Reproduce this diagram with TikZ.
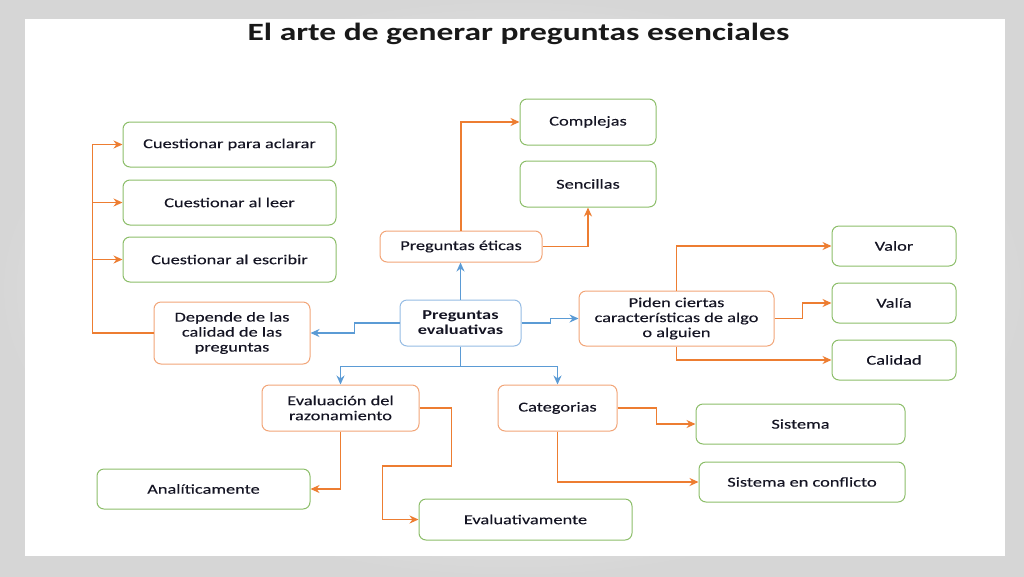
\documentclass[tikz,border=0pt]{standalone}
\usepackage{fontspec}
\setmainfont{Carlito}[FakeStretch=1.35]
\newfontfamily\boxfont{Carlito}[FakeStretch=1.35, FakeBold=0.2]
\definecolor{LineOrange}{RGB}{237,125,49}
\definecolor{BoxOrange}{RGB}{242,165,120}
\definecolor{LineBlue}{RGB}{91,155,213}
\definecolor{BoxBlue}{RGB}{150,188,228}
\definecolor{BoxGreen}{RGB}{140,190,105}
\definecolor{TextDark}{RGB}{20,20,35}
\usetikzlibrary{positioning, arrows.meta, calc, shadings}
\tikzstyle{arrow} = [line width=1.4pt, LineOrange, -{Stealth[length=9pt,width=8pt]}]
\tikzstyle{bluearrow} = [line width=1.4pt, LineBlue, -{Stealth[length=9pt,width=8pt]}]
\tikzstyle{basebox} = [rounded corners=7pt, fill=white, line width=1pt, align=center, inner sep=2pt, text=TextDark, font=\boxfont\fontsize{13.6}{15}\selectfont]
\tikzstyle{greenbox} = [basebox, draw=BoxGreen]
\tikzstyle{orangebox} = [basebox, draw=BoxOrange]
\tikzstyle{bluebox} = [basebox, draw=BoxBlue]

\begin{document}
\begin{tikzpicture}[x=1pt, y=-1pt]
  % Background
  \useasboundingbox (0,0) rectangle (1024,576);
  \shade[inner color=white, outer color=gray!32] (0,0) rectangle (1024,576);
  \fill[white] (25,19) rectangle (1005,556);

  % Title
  \node[text=black!90, font=\fontsize{24.8}{28}\selectfont\bfseries] (title) at (518.5,34) {El arte de generar preguntas esenciales};

  % Centre
  \node[bluebox, minimum width=121, minimum height=46, font=\fontsize{13.6}{15}\selectfont\bfseries] (evalua) at (460.5,323) {Preguntas\\evaluativas};

  % Left
  \node[greenbox, minimum width=213, minimum height=45] (aclarar) at (229.5,144.5) {Cuestionar para aclarar};
  \node[greenbox, minimum width=213, minimum height=45] (leer) at (229.5,202.5) {Cuestionar al leer};
  \node[greenbox, minimum width=213, minimum height=45] (escribir) at (229.5,259.5) {Cuestionar al escribir};
  \node[orangebox, minimum width=156, minimum height=62] (depende) at (232,333) {Depende de las\\calidad de las\\preguntas};

  % Top
  \node[orangebox, minimum width=162, minimum height=31] (eticas) at (461,246.5) {Preguntas éticas};
  \node[greenbox, minimum width=136, minimum height=46] (complejas) at (588,122) {Complejas};
  \node[greenbox, minimum width=136, minimum height=46] (sencillas) at (588,184) {Sencillas};

  % Right
  \node[orangebox, minimum width=195, minimum height=55] (piden) at (676.5,318.5) {Piden ciertas\\características de algo\\o alguien};
  \node[greenbox, minimum width=124, minimum height=40] (valor) at (894,246) {Valor};
  \node[greenbox, minimum width=124, minimum height=40] (valia) at (894,303) {Valía};
  \node[greenbox, minimum width=124, minimum height=40] (calidad) at (894,360) {Calidad};

  % Bottom
  \node[orangebox, minimum width=157, minimum height=46] (razon) at (340.5,408) {Evaluación del\\razonamiento};
  \node[orangebox, minimum width=119, minimum height=46] (categ) at (557.5,408) {Categorias};
  \node[greenbox, minimum width=213, minimum height=40] (anali) at (203.5,489) {Analíticamente};
  \node[greenbox, minimum width=213, minimum height=41] (evaluat) at (525.5,519.5) {Evaluativamente};
  \node[greenbox, minimum width=209, minimum height=40] (sistema) at (800.5,424) {Sistema};
  \node[greenbox, minimum width=206, minimum height=40] (conflicto) at (802,482) {Sistema en conflicto};

  % Blue connectors
  \draw[bluearrow] (evalua.north) -- (evalua.north |- eticas.south);
  \draw[bluearrow] (evalua.west) -- ++(-45,0) |- (depende.east);
  \draw[bluearrow] (evalua.east) -- ++(29,0) |- (piden.west);
  \draw[bluearrow] (evalua.south) -- ++(0,20) -| (razon.north);
  \draw[bluearrow] (evalua.south) -- ++(0,20) -| (categ.north);

  % Orange connectors
  \draw[arrow] (depende.west) -| ([xshift=-30pt]aclarar.west) -- (aclarar.west);
  \draw[arrow] ([xshift=-30pt]leer.west) -- (leer.west);
  \draw[arrow] ([xshift=-30pt]escribir.west) -- (escribir.west);
  \draw[arrow] (eticas.north) |- (complejas.west);
  \draw[arrow] (eticas.east) -| (sencillas.south);
  \draw[arrow] (piden.north) |- (valor.west);
  \draw[arrow] (piden.east) -- ++(28,0) |- (valia.west);
  \draw[arrow] (piden.south) |- (calidad.west);
  \draw[arrow] (razon.south) |- (anali.east);
  \draw[arrow] (razon.east) -- ++(32,0) -- ++(0,58) -| ([xshift=-36pt]evaluat.west) -- (evaluat.west);
  \draw[arrow] (categ.east) -- ++(39,0) |- (sistema.west);
  \draw[arrow] (categ.south) |- (conflicto.west);
\end{tikzpicture}
\end{document}
